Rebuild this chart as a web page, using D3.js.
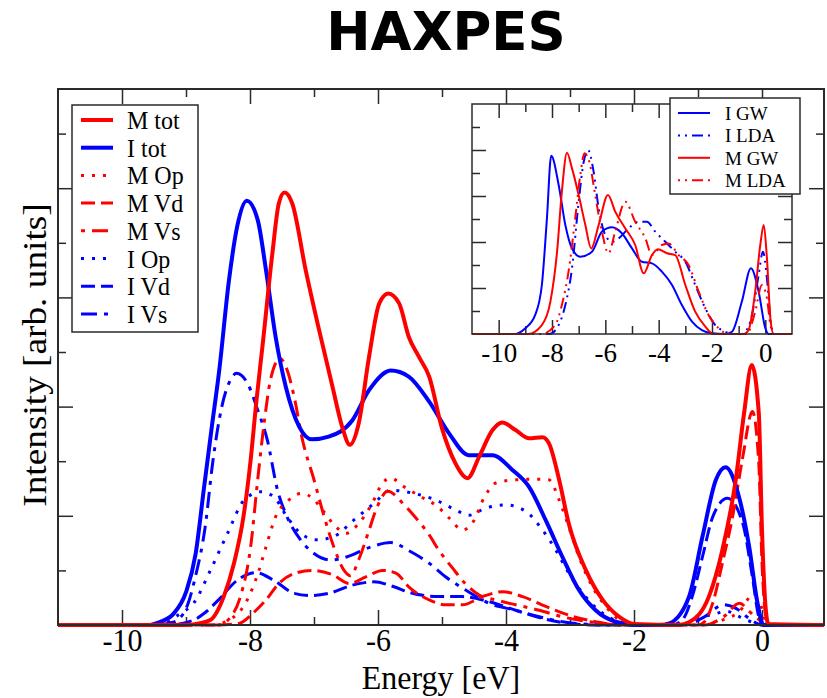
<!DOCTYPE html>
<html>
<head>
<meta charset="utf-8">
<script src="https://cdn.jsdelivr.net/npm/d3@7"></script>
<style>
  body { margin: 0; background: #fff; }
  text { font-family: "Liberation Serif", "Times New Roman", serif; }
</style>
</head>
<body>
<svg id="chart" width="827" height="698"></svg>
<script>
// ---- Main panel: HAXPES spectra, [energy (eV), intensity] pairs ----
const mTot = [[-11,0],[-9.0,0],[-8.8,0.03],[-8.62,0.09],[-8.41,0.52],[-8.25,1.13],[-8.1,2.0],[-7.99,3.02],[-7.9,4.1],[-7.8,5.16],[-7.65,6.81],[-7.55,7.72],[-7.46,7.92],[-7.34,7.72],[-7.13,6.5],[-6.92,5.4],[-6.71,4.36],[-6.56,3.63],[-6.44,3.3],[-6.3,3.7],[-6.14,4.91],[-5.98,5.89],[-5.84,6.07],[-5.67,5.89],[-5.52,5.28],[-5.36,4.91],[-5.2,4.55],[-5.0,3.6],[-4.79,2.96],[-4.6,2.69],[-4.42,3.08],[-4.21,3.57],[-4.06,3.71],[-3.85,3.57],[-3.64,3.42],[-3.43,3.44],[-3.33,3.33],[-3.17,2.66],[-3.02,1.86],[-2.75,1.0],[-2.49,0.46],[-2.23,0.15],[-2.0,0.02],[-1.3,0],[-1.14,0.05],[-0.83,0.52],[-0.62,1.37],[-0.41,2.66],[-0.28,3.88],[-0.16,4.76],[-0.05,3.88],[0.0,1.74],[0.06,0.27],[0.1,0.02],[1,0]];
const iTot = [[-11,0],[-9.6,0],[-9.4,0.06],[-9.2,0.2],[-9.0,0.6],[-8.85,1.3],[-8.72,2.5],[-8.6,3.6],[-8.48,4.67],[-8.33,6.3],[-8.2,7.3],[-8.05,7.77],[-7.88,7.42],[-7.75,6.5],[-7.6,5.28],[-7.44,4.36],[-7.23,3.63],[-7.03,3.4],[-6.77,3.45],[-6.4,3.75],[-6.14,4.3],[-5.8,4.66],[-5.52,4.55],[-5.2,4.09],[-4.89,3.51],[-4.58,3.11],[-4.21,3.11],[-3.9,2.84],[-3.64,2.53],[-3.38,1.92],[-3.12,1.25],[-2.86,0.64],[-2.6,0.27],[-2.29,0.06],[-1.97,0],[-1.6,0],[-1.45,0.03],[-1.14,0.52],[-0.93,1.62],[-0.72,2.66],[-0.57,2.89],[-0.36,2.35],[-0.2,1.43],[-0.07,0.4],[0.02,0],[1,0]];
const mOp = [[-11,0],[-8.6,0],[-8.33,0.09],[-8.07,0.4],[-7.86,1.0],[-7.75,1.43],[-7.6,1.98],[-7.39,2.29],[-7.2,2.41],[-7.02,2.32],[-6.87,2.11],[-6.66,1.8],[-6.5,1.68],[-6.3,1.86],[-6.09,2.23],[-5.93,2.6],[-5.8,2.69],[-5.59,2.53],[-5.33,2.35],[-5.07,2.17],[-4.88,1.95],[-4.68,1.74],[-4.53,1.86],[-4.32,2.38],[-4.16,2.6],[-3.85,2.66],[-3.54,2.67],[-3.33,2.66],[-3.17,2.29],[-3.02,1.8],[-2.86,1.25],[-2.65,0.7],[-2.44,0.34],[-2.23,0.09],[-2.0,0],[-0.9,0],[-0.6,0.1],[-0.35,0.25],[-0.15,0.54],[0,0.3],[0.08,0],[1,0]];
const mVd = [[-11,0],[-8.5,0],[-8.17,0.03],[-7.96,0.21],[-7.75,0.46],[-7.55,0.76],[-7.29,0.95],[-7.02,1.0],[-6.71,0.92],[-6.45,0.76],[-6.19,0.88],[-5.93,1.0],[-5.72,0.95],[-5.52,0.7],[-5.2,0.46],[-4.94,0.37],[-4.68,0.37],[-4.37,0.52],[-4.05,0.61],[-3.74,0.52],[-3.38,0.34],[-3.02,0.18],[-2.6,0.06],[-2.2,0],[-1.0,0],[-0.9,0.06],[-0.77,0.4],[-0.62,1.13],[-0.46,1.98],[-0.3,3.08],[-0.15,3.91],[-0.05,2.96],[0.0,1.13],[0.06,0.15],[0.1,0],[1,0]];
const mVs = [[-11,0],[-8.5,0],[-8.3,0.15],[-8.15,0.52],[-7.99,1.43],[-7.88,2.66],[-7.78,3.69],[-7.68,4.49],[-7.53,4.88],[-7.42,4.67],[-7.31,4.18],[-7.18,3.39],[-7.0,2.66],[-6.84,1.98],[-6.69,1.43],[-6.53,1.0],[-6.43,0.9],[-6.3,1.2],[-6.15,1.7],[-6.01,2.17],[-5.85,2.45],[-5.59,2.2],[-5.4,1.95],[-5.2,1.65],[-5.05,1.37],[-4.84,1.05],[-4.63,0.75],[-4.42,0.55],[-4.16,0.46],[-3.85,0.37],[-3.48,0.27],[-3.12,0.15],[-2.7,0.06],[-2.2,0],[-0.9,0],[-0.6,0.15],[-0.35,0.4],[-0.2,0.25],[-0.05,0.1],[0.05,0],[1,0]];
const iOp = [[-11,0],[-9.4,0],[-9.1,0.2],[-8.88,0.4],[-8.62,1.0],[-8.35,1.68],[-8.09,2.29],[-7.83,2.44],[-7.63,2.35],[-7.42,1.98],[-7.21,1.68],[-6.95,1.56],[-6.69,1.62],[-6.38,1.92],[-6.06,2.23],[-5.8,2.47],[-5.44,2.41],[-5.1,2.29],[-4.79,2.11],[-4.58,2.01],[-4.32,2.14],[-4.0,2.2],[-3.69,2.08],[-3.43,1.74],[-3.22,1.37],[-3.02,0.95],[-2.8,0.58],[-2.55,0.27],[-2.23,0.06],[-1.9,0],[-1.3,0],[-1.0,0.12],[-0.75,0.2],[-0.55,0.25],[-0.35,0.15],[-0.1,0.03],[0,0],[1,0]];
const iVd = [[-11,0],[-9.3,0],[-8.9,0.08],[-8.72,0.21],[-8.5,0.45],[-8.22,0.8],[-7.91,0.96],[-7.63,0.82],[-7.31,0.58],[-7.05,0.54],[-6.77,0.58],[-6.4,0.73],[-6.07,0.79],[-5.75,0.7],[-5.52,0.6],[-5.05,0.52],[-4.68,0.52],[-4.27,0.43],[-3.85,0.27],[-3.43,0.12],[-3.02,0.03],[-2.6,0],[-1.4,0],[-1.24,0.1],[-1.09,0.52],[-0.93,1.25],[-0.77,1.98],[-0.54,2.32],[-0.3,1.86],[-0.15,0.88],[-0.05,0.15],[0.02,0],[1,0]];
const iVs = [[-11,0],[-9.5,0],[-9.2,0.05],[-9.0,0.3],[-8.85,0.9],[-8.7,1.8],[-8.58,3.0],[-8.44,4.0],[-8.3,4.5],[-8.21,4.61],[-8.04,4.43],[-7.88,3.94],[-7.73,3.39],[-7.57,2.47],[-7.42,1.98],[-7.21,1.56],[-7.0,1.31],[-6.74,1.19],[-6.48,1.25],[-6.11,1.43],[-5.8,1.51],[-5.5,1.35],[-5.2,1.13],[-4.94,0.88],[-4.63,0.64],[-4.27,0.4],[-3.85,0.27],[-3.48,0.15],[-3.12,0.06],[-2.7,0.01],[-2.4,0],[-1.2,0],[-0.9,0.15],[-0.6,0.37],[-0.4,0.3],[-0.2,0.12],[0,0],[1,0]];

// ---- Inset: GW vs LDA spectra ----
const iGW = [[-11,0],[-9.4,0],[-9.0,0.25],[-8.63,0.83],[-8.38,2.13],[-8.19,5.03],[-8.03,7.75],[-7.75,6.48],[-7.5,4.74],[-7.25,3.72],[-6.94,3.36],[-6.5,3.58],[-6.13,4.45],[-5.75,4.64],[-5.38,4.38],[-5.0,3.72],[-4.63,3.14],[-4.25,3.07],[-3.88,2.71],[-3.5,2.13],[-3.13,1.26],[-2.75,0.54],[-2.38,0.17],[-2.0,0.03],[-1.5,0],[-1.25,0.1],[-0.88,1.41],[-0.54,2.86],[-0.25,1.84],[0,0.25],[0.13,0],[1,0]];
const iLDA = [[-11,0],[-8.1,0],[-7.75,0.39],[-7.5,1.26],[-7.25,2.86],[-7.0,5.75],[-6.81,7.49],[-6.65,8.0],[-6.44,7.06],[-6.25,5.46],[-6.0,4.3],[-5.75,4.01],[-5.5,4.16],[-5.13,4.59],[-4.75,4.88],[-4.44,4.88],[-4.13,4.45],[-3.75,4.01],[-3.38,3.58],[-3.0,3.14],[-2.63,2.13],[-2.25,1.12],[-1.88,0.39],[-1.5,0.1],[-1.25,0],[-0.9,0],[-0.75,0.1],[-0.5,0.83],[-0.25,2.57],[-0.09,3.58],[0.06,2.42],[0.19,0.68],[0.31,0],[1,0]];
const mGW = [[-11,0],[-8.9,0],[-8.38,0.39],[-8.06,1.41],[-7.81,3.58],[-7.63,6.19],[-7.44,7.88],[-7.25,7.2],[-7.0,6.04],[-6.75,4.74],[-6.53,3.72],[-6.25,4.74],[-5.9,6.04],[-5.63,5.32],[-5.25,4.59],[-4.88,3.87],[-4.56,2.64],[-4.25,3.43],[-4.03,3.68],[-3.69,3.51],[-3.38,3.43],[-3.0,2.13],[-2.63,0.97],[-2.25,0.32],[-1.94,0],[-0.8,0],[-0.63,0.17],[-0.38,1.84],[-0.19,3.87],[-0.06,4.74],[0.06,3.29],[0.19,0.68],[0.31,0],[1,0]];
const mLDA = [[-11,0],[-8.4,0],[-7.88,0.39],[-7.63,1.26],[-7.38,2.71],[-7.13,5.03],[-6.94,6.91],[-6.78,7.86],[-6.6,7.49],[-6.38,6.04],[-6.13,4.45],[-5.88,3.51],[-5.63,4.45],[-5.25,5.75],[-4.88,4.88],[-4.5,4.16],[-4.25,3.43],[-3.88,3.87],[-3.63,3.94],[-3.25,3.43],[-2.88,3.0],[-2.5,1.84],[-2.13,0.83],[-1.75,0.25],[-1.38,0],[-0.7,0],[-0.38,0.97],[-0.13,2.13],[0.06,1.55],[0.19,0.39],[0.31,0],[1,0]];

// ---- Tick values ----
const xMajor = [-10, -8, -6, -4, -2, 0];
const xMinor = [-9, -7, -5, -3, -1];
const yMajor = [2, 4, 6, 8];
const yMinor = [1, 3, 5, 7, 9];
const insetXMajor = [-10, -8, -6, -4, -2, 0];
const insetXMinor = [-9, -7, -5, -3, -1];
const insetYMajor = [2, 4, 6, 8];
const insetYMinor = [1, 3, 5, 7, 9];

// ---- Series styling ----
const RED = "#ff0000", BLUE = "#0000ff";
const mainSeries = [
  { name: "M tot", data: mTot, color: RED,  width: 4,   dash: null },
  { name: "I tot", data: iTot, color: BLUE, width: 4,   dash: null },
  { name: "M Op",  data: mOp,  color: RED,  width: 3,   dash: "3,8" },
  { name: "M Vd",  data: mVd,  color: RED,  width: 3,   dash: "14,6" },
  { name: "M Vs",  data: mVs,  color: RED,  width: 3,   dash: "4,7,16,7" },
  { name: "I Op",  data: iOp,  color: BLUE, width: 3,   dash: "3,8" },
  { name: "I Vd",  data: iVd,  color: BLUE, width: 3,   dash: "14,6" },
  { name: "I Vs",  data: iVs,  color: BLUE, width: 3,   dash: "16,7,4,7" }
];
const insetSeries = [
  { name: "I GW",  data: iGW,  color: BLUE, width: 2, dash: null },
  { name: "I LDA", data: iLDA, color: BLUE, width: 2, dash: "2,5,2,5,11,5" },
  { name: "M GW",  data: mGW,  color: RED,  width: 2, dash: null },
  { name: "M LDA", data: mLDA, color: RED,  width: 2, dash: "2,5,2,5,11,5" }
];

const svg = d3.select("#chart");
const FRAME = "#2a2a2a";

// Title
svg.append("text")
  .attr("x", 446).attr("y", 50)
  .attr("text-anchor", "middle")
  .style("font-family", "'DejaVu Sans', Verdana, sans-serif")
  .style("font-weight", "bold")
  .style("font-size", "53px")
  .text("HAXPES");

// Serif label with its baseline at (x, yBase), optionally drawn a little taller than wide
function stretchedText(parent, x, yBase, str, size, anchor, stretch) {
  return parent.append("text")
    .attr("transform", `translate(${x},${yBase}) scale(1,${stretch || 1})`)
    .attr("text-anchor", anchor || "start")
    .style("font-family", "'Liberation Serif', serif")
    .style("font-size", size + "px")
    .text(str);
}

// ---- Main plot ----
const M = { left: 58, right: 824, top: 89, bottom: 625 };
const x = d3.scaleLinear().domain([-11, -11 + (M.right - M.left) / 64]).range([M.left, M.right]);
const y = d3.scaleLinear().domain([0, (M.bottom - M.top) / 54.6]).range([M.bottom, M.top]);

const main = svg.append("g");
main.append("rect")
  .attr("x", M.left).attr("y", M.top)
  .attr("width", M.right - M.left).attr("height", M.bottom - M.top)
  .attr("fill", "#fff");

svg.append("clipPath").attr("id", "mainClip").append("rect")
  .attr("x", M.left).attr("y", M.top - 2)
  .attr("width", M.right - M.left).attr("height", M.bottom - M.top + 4);

const line = d3.line().x(d => x(d[0])).y(d => y(d[1])).curve(d3.curveMonotoneX);

function styleAxis(g) {
  g.select(".domain").remove();
  g.selectAll(".tick line").attr("stroke", FRAME).attr("stroke-width", 1.5);
}

// Ticks pointing inward on all four sides; labels only along the bottom
function drawTicks(parent, xs, ys, area, xMaj, xMin, yMaj, yMin, majLen, minLen, labelSize, labelBase, stretch) {
  parent.append("g").attr("transform", `translate(0,${area.bottom})`)
    .call(d3.axisBottom(xs).tickValues(xMaj).tickSize(-majLen).tickFormat(""))
    .call(styleAxis)
    .call(g => g.selectAll(".tick").each(function (d) {
      stretchedText(d3.select(this), 0, labelBase, String(d), labelSize, "middle", stretch)
        .attr("fill", "#000");
    }));
  parent.append("g").attr("transform", `translate(0,${area.bottom})`)
    .call(d3.axisBottom(xs).tickValues(xMin).tickSize(-minLen).tickFormat(""))
    .call(styleAxis);
  parent.append("g").attr("transform", `translate(0,${area.top})`)
    .call(d3.axisTop(xs).tickValues(xMaj).tickSize(-majLen).tickFormat(""))
    .call(styleAxis);
  parent.append("g").attr("transform", `translate(0,${area.top})`)
    .call(d3.axisTop(xs).tickValues(xMin).tickSize(-minLen).tickFormat(""))
    .call(styleAxis);
  parent.append("g").attr("transform", `translate(${area.left},0)`)
    .call(d3.axisLeft(ys).tickValues(yMaj).tickSize(-majLen).tickFormat(""))
    .call(styleAxis);
  parent.append("g").attr("transform", `translate(${area.left},0)`)
    .call(d3.axisLeft(ys).tickValues(yMin).tickSize(-minLen).tickFormat(""))
    .call(styleAxis);
  parent.append("g").attr("transform", `translate(${area.right},0)`)
    .call(d3.axisRight(ys).tickValues(yMaj).tickSize(-majLen).tickFormat(""))
    .call(styleAxis);
  parent.append("g").attr("transform", `translate(${area.right},0)`)
    .call(d3.axisRight(ys).tickValues(yMin).tickSize(-minLen).tickFormat(""))
    .call(styleAxis);
}

drawTicks(main, x, y, M, xMajor, xMinor, yMajor, yMinor, 15, 8, 30, 26, 1.08);

// Curves
const curves = main.append("g").attr("clip-path", "url(#mainClip)");
mainSeries.slice().reverse().forEach(s => {
  curves.append("path")
    .attr("d", line(s.data))
    .attr("fill", "none")
    .attr("stroke", s.color)
    .attr("stroke-width", s.width)
    .attr("stroke-dasharray", s.dash)
    .attr("stroke-linejoin", "round");
});

// Frame
main.append("rect")
  .attr("x", M.left).attr("y", M.top)
  .attr("width", M.right - M.left).attr("height", M.bottom - M.top)
  .attr("fill", "none").attr("stroke", FRAME).attr("stroke-width", 2);

// Axis titles
stretchedText(svg, (M.left + M.right) / 2, 689, "Energy [eV]", 32, "middle", 1.08);
svg.append("text")
  .attr("transform", `translate(46,${(M.top + M.bottom) / 2 - 2}) rotate(-90) scale(1.13,1)`)
  .attr("text-anchor", "middle")
  .style("font-size", "33px")
  .text("Intensity [arb. units]");

// Main legend
const legMain = svg.append("g");
legMain.append("rect")
  .attr("x", 72).attr("y", 105).attr("width", 126).attr("height", 227)
  .attr("fill", "#fff").attr("stroke", FRAME).attr("stroke-width", 1.5);
mainSeries.forEach((s, i) => {
  const cy = 120 + i * 27.7;
  legMain.append("line")
    .attr("x1", 81).attr("x2", 113).attr("y1", cy).attr("y2", cy)
    .attr("stroke", s.color).attr("stroke-width", s.width)
    .attr("stroke-dasharray", s.dash);
  stretchedText(legMain, 127, cy + 9, s.name, 24, "start", 1.06);
});

// ---- Inset ----
const I = { left: 472, right: 792, top: 104, bottom: 334 };
const xi = d3.scaleLinear().domain([-11, 1]).range([I.left, I.right]);
const yi = d3.scaleLinear().domain([0, 10]).range([I.bottom, I.top]);
const inset = svg.append("g");
inset.append("rect")
  .attr("x", I.left).attr("y", I.top)
  .attr("width", I.right - I.left).attr("height", I.bottom - I.top)
  .attr("fill", "#fff");

drawTicks(inset, xi, yi, I, insetXMajor, insetXMinor, insetYMajor, insetYMinor, 14, 8, 27, 28, 1.05);

svg.append("clipPath").attr("id", "insetClip").append("rect")
  .attr("x", I.left).attr("y", I.top)
  .attr("width", I.right - I.left).attr("height", I.bottom - I.top + 2);
const lineI = d3.line().x(d => xi(d[0])).y(d => yi(d[1])).curve(d3.curveMonotoneX);
const insetCurves = inset.append("g").attr("clip-path", "url(#insetClip)");
insetSeries.forEach(s => {
  insetCurves.append("path")
    .attr("d", lineI(s.data))
    .attr("fill", "none")
    .attr("stroke", s.color)
    .attr("stroke-width", s.width)
    .attr("stroke-dasharray", s.dash);
});
inset.append("rect")
  .attr("x", I.left).attr("y", I.top)
  .attr("width", I.right - I.left).attr("height", I.bottom - I.top)
  .attr("fill", "none").attr("stroke", FRAME).attr("stroke-width", 1.5);

// Inset legend
const legI = svg.append("g");
legI.append("rect")
  .attr("x", 670).attr("y", 98).attr("width", 130).attr("height", 96)
  .attr("fill", "#fff").attr("stroke", FRAME).attr("stroke-width", 1.5);
insetSeries.forEach((s, i) => {
  const cy = 113 + i * 22.4;
  legI.append("line")
    .attr("x1", 678).attr("x2", 710).attr("y1", cy).attr("y2", cy)
    .attr("stroke", s.color).attr("stroke-width", s.width)
    .attr("stroke-dasharray", s.dash);
  stretchedText(legI, 725, cy + 7, s.name, 19, "start", 1);
});
</script>
</body>
</html>
